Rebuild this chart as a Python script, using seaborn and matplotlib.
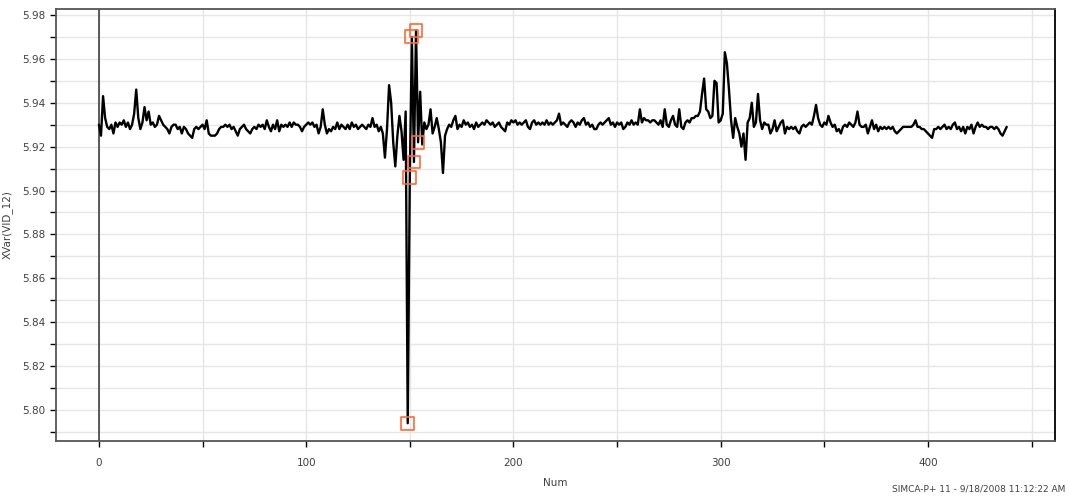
import matplotlib
matplotlib.use("Agg")
import matplotlib.pyplot as plt
import seaborn as sns
import pandas as pd
from matplotlib.ticker import MultipleLocator, FormatStrFormatter

xvar = [
    5.930, 5.925, 5.943, 5.933, 5.929, 5.928, 5.930, 5.926, 5.931, 5.929,
    5.931, 5.930, 5.932, 5.929, 5.931, 5.928, 5.930, 5.935, 5.946, 5.933,
    5.928, 5.931, 5.938, 5.932, 5.936, 5.930, 5.931, 5.929, 5.930, 5.934,
    5.932, 5.930, 5.929, 5.928, 5.926, 5.929, 5.930, 5.930, 5.928, 5.929,
    5.926, 5.929, 5.928, 5.926, 5.925, 5.924, 5.928, 5.929, 5.928, 5.929,
    5.930, 5.928, 5.932, 5.926, 5.925, 5.925, 5.925, 5.926, 5.928, 5.929,
    5.929, 5.930, 5.929, 5.930, 5.928, 5.929, 5.927, 5.925, 5.928, 5.929,
    5.930, 5.928, 5.927, 5.926, 5.928, 5.929, 5.928, 5.930, 5.929, 5.930,
    5.928, 5.932, 5.929, 5.927, 5.930, 5.928, 5.932, 5.927, 5.930, 5.929,
    5.930, 5.929, 5.931, 5.929, 5.931, 5.930, 5.930, 5.929, 5.927, 5.929,
    5.930, 5.931, 5.930, 5.931, 5.929, 5.930, 5.926, 5.929, 5.937, 5.930,
    5.926, 5.928, 5.927, 5.929, 5.928, 5.931, 5.928, 5.930, 5.929, 5.928,
    5.930, 5.928, 5.931, 5.929, 5.930, 5.928, 5.929, 5.930, 5.929, 5.928,
    5.930, 5.929, 5.933, 5.929, 5.930, 5.927, 5.929, 5.926, 5.915, 5.928,
    5.948, 5.940, 5.922, 5.911, 5.925, 5.934, 5.927, 5.914, 5.936, 5.794,
    5.906, 5.970, 5.913, 5.973, 5.922, 5.945, 5.921, 5.931, 5.928, 5.930,
    5.937, 5.926, 5.929, 5.933, 5.928, 5.922, 5.908, 5.925, 5.928, 5.930,
    5.929, 5.932, 5.934, 5.928, 5.930, 5.929, 5.932, 5.930, 5.931, 5.929,
    5.930, 5.928, 5.931, 5.929, 5.930, 5.931, 5.930, 5.932, 5.931, 5.930,
    5.931, 5.929, 5.930, 5.931, 5.929, 5.928, 5.927, 5.931, 5.930, 5.932,
    5.931, 5.932, 5.930, 5.931, 5.930, 5.931, 5.932, 5.929, 5.928, 5.931,
    5.932, 5.930, 5.931, 5.930, 5.931, 5.930, 5.932, 5.930, 5.931, 5.930,
    5.931, 5.932, 5.935, 5.930, 5.931, 5.930, 5.929, 5.931, 5.932, 5.931,
    5.929, 5.931, 5.930, 5.932, 5.933, 5.930, 5.931, 5.929, 5.930, 5.928,
    5.928, 5.930, 5.931, 5.930, 5.931, 5.932, 5.933, 5.930, 5.931, 5.929,
    5.931, 5.930, 5.931, 5.928, 5.929, 5.931, 5.930, 5.932, 5.930, 5.931,
    5.930, 5.937, 5.931, 5.933, 5.932, 5.932, 5.931, 5.932, 5.932, 5.931,
    5.930, 5.932, 5.929, 5.937, 5.930, 5.929, 5.932, 5.934, 5.930, 5.929,
    5.937, 5.929, 5.928, 5.931, 5.932, 5.931, 5.933, 5.933, 5.934, 5.934,
    5.936, 5.944, 5.951, 5.937, 5.936, 5.933, 5.934, 5.950, 5.949, 5.931,
    5.932, 5.935, 5.963, 5.958, 5.946, 5.932, 5.924, 5.933, 5.929, 5.926,
    5.920, 5.926, 5.914, 5.931, 5.933, 5.940, 5.929, 5.931, 5.944, 5.932,
    5.928, 5.931, 5.930, 5.930, 5.926, 5.928, 5.932, 5.927, 5.929, 5.931,
    5.932, 5.926, 5.929, 5.928, 5.929, 5.928, 5.929, 5.927, 5.926, 5.929,
    5.930, 5.929, 5.930, 5.931, 5.930, 5.934, 5.939, 5.933, 5.930, 5.929,
    5.931, 5.930, 5.934, 5.931, 5.929, 5.930, 5.927, 5.928, 5.926, 5.929,
    5.930, 5.929, 5.931, 5.930, 5.929, 5.931, 5.936, 5.930, 5.929, 5.929,
    5.930, 5.926, 5.929, 5.932, 5.928, 5.930, 5.927, 5.929, 5.928, 5.929,
    5.928, 5.929, 5.928, 5.929, 5.927, 5.926, 5.927, 5.928, 5.929, 5.929,
    5.929, 5.929, 5.929, 5.930, 5.932, 5.929, 5.929, 5.928, 5.928, 5.927,
    5.926, 5.925, 5.924, 5.928, 5.928, 5.929, 5.928, 5.929, 5.930, 5.928,
    5.929, 5.928, 5.930, 5.931, 5.928, 5.929, 5.927, 5.929, 5.926, 5.929,
    5.928, 5.930, 5.926, 5.929, 5.931, 5.929, 5.930, 5.929, 5.929, 5.928,
    5.929, 5.929, 5.928, 5.929, 5.928, 5.926, 5.925, 5.927, 5.929,
]
num = list(range(len(xvar)))

# observations marked with orange boxes
marked_num = [149, 150, 151, 152, 153, 154]

x_ticks = [0, 100, 200, 300, 400]
y_ticks = [5.80, 5.82, 5.84, 5.86, 5.88, 5.90, 5.92, 5.94, 5.96, 5.98]

df = pd.DataFrame({"Num": num, "XVar": xvar})
marked = df[df["Num"].isin(marked_num)]

sns.set_style("white")
plt.rcParams["font.family"] = ["DejaVu Sans"]

fig = plt.figure(figsize=(10.69, 5.0), dpi=100)
ax = fig.add_axes([0.0524, 0.118, 0.9345, 0.864])

ax.axvline(0, color="#303030", lw=1.1, zorder=1.5)
sns.lineplot(data=df, x="Num", y="XVar", color="black", lw=1.7, ax=ax, zorder=2)
sns.scatterplot(data=marked, x="Num", y="XVar", marker="s", s=85,
                facecolor="none", edgecolor="#ff6a33", linewidth=1.2, ax=ax, zorder=3)

ax.set_xlim(-20.7, 461.3)
ax.set_ylim(5.7859, 5.9827)
ax.set_xticks(x_ticks)
ax.set_yticks(y_ticks)
ax.xaxis.set_minor_locator(MultipleLocator(50))
ax.yaxis.set_minor_locator(MultipleLocator(0.01))
ax.yaxis.set_major_formatter(FormatStrFormatter("%.2f"))

ax.grid(which="both", color="#e6e6e6", lw=1)
ax.set_axisbelow(True)
ax.tick_params(which="both", direction="out", length=4, width=1, color="black",
               labelsize=7.5, labelcolor="#404040", bottom=True, left=True)
ax.tick_params(axis="x", pad=8)

for side in ["left", "bottom", "top"]:
    ax.spines[side].set_color("#555555")
    ax.spines[side].set_linewidth(1.3)
ax.spines["right"].set_color("black")
ax.spines["right"].set_linewidth(1.3)

ax.set_xlabel("Num", fontsize=7.5, color="#404040")
ax.set_ylabel("XVar(VID_12)", fontsize=7.5, color="#404040")
ax.xaxis.set_label_coords(0.5, -0.086)
ax.yaxis.set_label_coords(-0.043, 0.5)

fig.text(0.997, 0.012, "SIMCA-P+ 11 - 9/18/2008 11:12:22 AM",
         ha="right", va="bottom", fontsize=6.5, color="#404040")

fig.savefig("out.png", dpi=100)
